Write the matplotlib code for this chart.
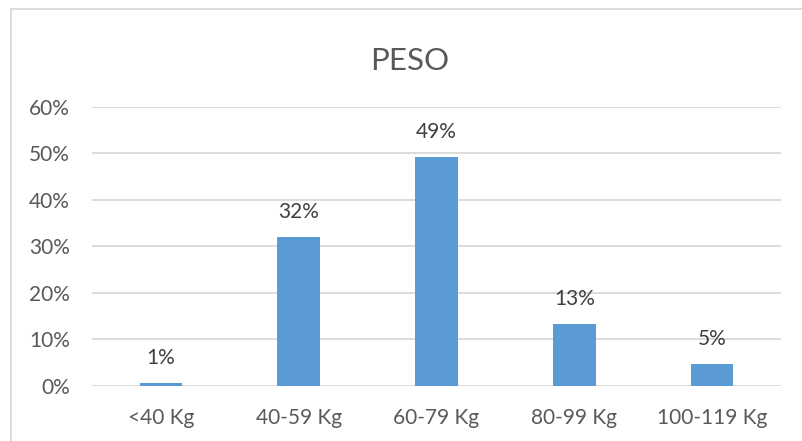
import matplotlib.pyplot as plt
from matplotlib.patches import Rectangle
from matplotlib.ticker import PercentFormatter

# data
categories = ["<40 Kg", "40-59 Kg", "60-79 Kg", "80-99 Kg", "100-119 Kg"]
values = [0.0065, 0.32, 0.493, 0.133, 0.047]
labels = ["1%", "32%", "49%", "13%", "5%"]

plt.rcParams["font.family"] = ["Lato", "DejaVu Sans"]
text_color = "#595959"
label_color = "#404040"
bar_color = "#5b9bd5"
grid_color = "#d9d9d9"

fig = plt.figure(figsize=(8.03, 4.41), dpi=100)
ax = fig.add_axes([92 / 803, 1 - 385.7 / 441, (781 - 92) / 803, (385.7 - 107) / 441])

x = range(len(categories))
bars = ax.bar(x, values, width=0.31, color=bar_color, zorder=3)

for b, lab in zip(bars, labels):
    ax.annotate(lab, (b.get_x() + b.get_width() / 2, b.get_height()),
                xytext=(0, 13.5), textcoords="offset points",
                ha="center", va="baseline", fontsize=15, color=label_color)

ax.set_xlim(-0.5, len(categories) - 0.5)
ax.set_ylim(0, 0.6)
ax.set_yticks([0, 0.1, 0.2, 0.3, 0.4, 0.5, 0.6])
ax.yaxis.set_major_formatter(PercentFormatter(1.0, decimals=0))
ax.set_xticks(list(x))
ax.set_xticklabels(categories)

ax.grid(axis="y", color=grid_color, linewidth=1.3, zorder=0)
for s in ax.spines.values():
    s.set_visible(False)
ax.tick_params(axis="both", length=0, labelsize=15, colors=text_color)
ax.tick_params(axis="y", pad=16)
ax.tick_params(axis="x", pad=16)

fig.text(410 / 803, 1 - 70 / 441, "PESO", ha="center", va="baseline",
         fontsize=22.5, color=text_color)

# outer chart border
fig.patches.append(Rectangle((11 / 803, -0.1), 1.2, 1 - 9 / 441 + 0.1,
                             transform=fig.transFigure, fill=False,
                             edgecolor="#d9d9d9", linewidth=1.3))

fig.savefig("out.png", dpi=100)
